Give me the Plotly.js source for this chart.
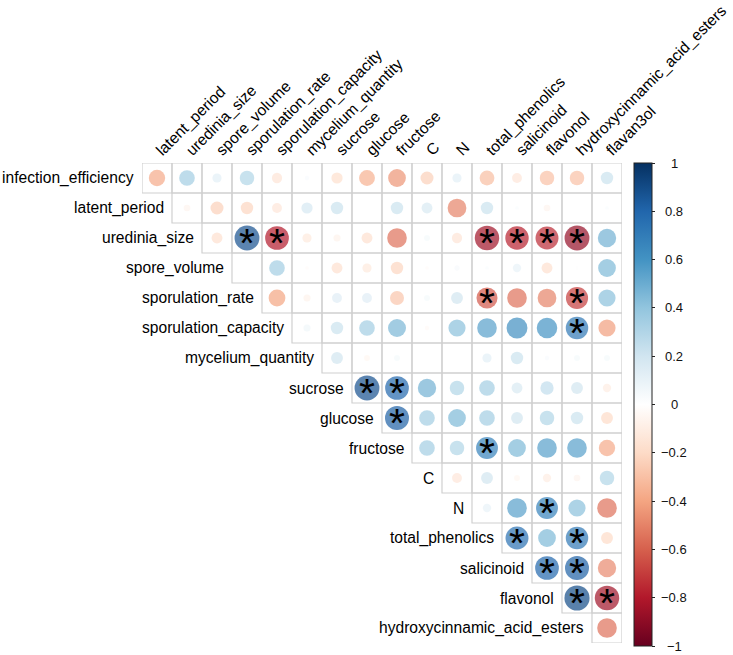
<!DOCTYPE html>
<html>
<head>
<meta charset="utf-8">
<script src="https://cdn.plot.ly/plotly-3.0.1.min.js"></script>
<style>html,body{margin:0;padding:0;background:#fff;}</style>
</head>
<body>
<div id="chart" style="width:733px;height:655px;"></div>
<script>
// ---------- DATA ----------
const variables = ['infection_efficiency','latent_period','uredinia_size','spore_volume','sporulation_rate',
  'sporulation_capacity','mycelium_quantity','sucrose','glucose','fructose','C','N','total_phenolics',
  'salicinoid','flavonol','hydroxycinnamic_acid_esters','flavan3ol'];

// Upper-triangle correlations: each row lists r with the variables that follow it
const r_infection_efficiency = [-0.38, 0.35, 0.12, 0.3, -0.15, 0.03, -0.18, -0.36, -0.45, -0.24, 0.12, -0.31, -0.14, -0.3, -0.3, 0.22];
const r_latent_period = [-0.06, -0.24, -0.22, -0.14, 0.18, 0.22, 0, 0.22, 0.17, -0.5, 0.22, 0.02, -0.06, 0, 0.02];
const r_uredinia_size = [-0.17, 0.88, -0.8, -0.12, -0.07, -0.17, -0.55, 0.05, -0.15, -0.85, -0.78, -0.75, -0.88, 0.48];
const r_spore_volume = [0, 0.35, -0.02, -0.17, -0.12, -0.22, -0.02, 0.04, 0.02, 0.1, -0.17, 0.01, 0.45];
const r_sporulation_rate = [-0.4, -0.07, 0.14, 0.14, -0.28, 0.05, 0.2, -0.63, -0.55, -0.5, -0.7, 0.42];
const r_sporulation_capacity = [0.07, 0.22, 0.35, 0.46, -0.03, 0.42, 0.55, 0.62, 0.6, 0.72, -0.42];
const r_mycelium_quantity = [0.2, -0.05, 0.05, 0, 0, 0.12, 0.22, 0.03, 0.05, 0.05];
const r_sucrose = [0.88, 0.8, 0.48, 0.3, 0.35, 0.17, 0.25, 0.2, -0.1];
const r_glucose = [0.82, 0.35, 0.45, 0.35, 0.2, 0.3, 0.22, -0.2];
const r_fructose = [0.35, 0.3, 0.68, 0.45, 0.55, 0.55, -0.38];
const r_C = [-0.14, 0.2, -0.05, -0.1, -0.06, 0.3];
const r_N = [0.1, 0.55, 0.68, 0.42, -0.55];
const r_total_phenolics = [0.75, 0.45, 0.72, -0.2];
const r_salicinoid = [0.8, 0.82, -0.48];
const r_flavonol = [0.9, -0.85];
const r_hydroxycinnamic_acid_esters = [-0.55];

// significant pairs (row variable, column variable)
const significantPairs = [
  ['uredinia_size','sporulation_rate'], ['uredinia_size','sporulation_capacity'],
  ['uredinia_size','total_phenolics'], ['uredinia_size','salicinoid'],
  ['uredinia_size','flavonol'], ['uredinia_size','hydroxycinnamic_acid_esters'],
  ['sporulation_rate','total_phenolics'], ['sporulation_rate','hydroxycinnamic_acid_esters'],
  ['sporulation_capacity','hydroxycinnamic_acid_esters'],
  ['sucrose','glucose'], ['sucrose','fructose'], ['glucose','fructose'],
  ['fructose','total_phenolics'], ['N','flavonol'],
  ['total_phenolics','salicinoid'], ['total_phenolics','hydroxycinnamic_acid_esters'],
  ['salicinoid','flavonol'], ['salicinoid','hydroxycinnamic_acid_esters'],
  ['flavonol','hydroxycinnamic_acid_esters'], ['flavonol','flavan3ol']
];

const colorbarTicks = [-1, -0.8, -0.6, -0.4, -0.2, 0, 0.2, 0.4, 0.6, 0.8, 1];

// ---------- BUILD ----------
const rowVars = variables.slice(0, variables.length - 1);
const colVars = variables.slice(1);
const rows = [r_infection_efficiency, r_latent_period, r_uredinia_size, r_spore_volume, r_sporulation_rate,
  r_sporulation_capacity, r_mycelium_quantity, r_sucrose, r_glucose, r_fructose, r_C, r_N,
  r_total_phenolics, r_salicinoid, r_flavonol, r_hydroxycinnamic_acid_esters];

const FONT = '"Liberation Sans", Arial, Helvetica, sans-serif';
const W = 733, H = 655, ML = 142, MR = 111, MT = 163, MB = 12;
const PW = W - ML - MR, PH = H - MT - MB;

const xs = [], ys = [], vals = [], mags = [], shapes = [];
rows.forEach((row, i) => {
  row.forEach((v, k) => {
    const j = i + k;
    xs.push(j); ys.push(i); vals.push(v); mags.push(Math.abs(v));
    shapes.push({type: 'rect', xref: 'x', yref: 'y', x0: j - 0.5, x1: j + 0.5, y0: i - 0.5, y1: i + 0.5,
      line: {color: '#d0d0d0', width: 1.2}, fillcolor: 'rgba(0,0,0,0)', layer: 'below'});
  });
});

const RdBu = [[0,'#67001F'],[0.1,'#B2182B'],[0.2,'#D6604D'],[0.3,'#F4A582'],[0.4,'#FDDBC7'],[0.5,'#FFFFFF'],
  [0.6,'#D1E5F0'],[0.7,'#92C5DE'],[0.8,'#4393C3'],[0.9,'#2166AC'],[1,'#053061']];

const MAXD = 26.5; // circle diameter (px) for |r| = 1 ; area proportional to |r|
const BAR_TOP = 163, BAR_LEN = 483;
const circles = {
  type: 'scatter', mode: 'markers', x: xs, y: ys, hoverinfo: 'skip',
  marker: {
    size: mags, sizemode: 'area', sizeref: 2 / (MAXD * MAXD), sizemin: 0,
    color: vals, cmin: -1, cmax: 1, colorscale: RdBu, line: {width: 0},
    showscale: true,
    colorbar: {
      x: (634 - ML) / PW, xanchor: 'left', xpad: 0, y: 1, yanchor: 'top', ypad: 0,
      len: BAR_LEN, lenmode: 'pixels', thickness: 18, thicknessmode: 'pixels',
      outlinewidth: 1, outlinecolor: '#222',
      tickvals: colorbarTicks, ticks: 'outside', ticklen: 3, tickwidth: 1, tickcolor: '#222',
      showticklabels: false
    }
  }
};

const annotations = [];
rowVars.forEach((name, i) => {
  annotations.push({x: i - 0.5, y: i, xref: 'x', yref: 'y', text: name, showarrow: false,
    xanchor: 'right', yanchor: 'middle', xshift: -6, font: {family: FONT, size: 15.6, color: '#000'}});
});
significantPairs.forEach(([a, b]) => {
  annotations.push({x: variables.indexOf(b) - 1, y: variables.indexOf(a), xref: 'x', yref: 'y', text: '*',
    showarrow: false, xanchor: 'center', yanchor: 'middle', yshift: -5,
    font: {family: FONT, size: 41, color: '#000'}});
});
// colorbar tick labels, centred like the reference
colorbarTicks.forEach(v => {
  const pix = BAR_TOP + (1 - v) / 2 * BAR_LEN;
  annotations.push({x: (674 - ML) / PW, y: (H - MB - pix) / PH, xref: 'paper', yref: 'paper',
    text: v < 0 ? '\u2212' + Math.abs(v) : String(v), showarrow: false, xanchor: 'center', yanchor: 'middle',
    font: {family: FONT, size: 13, color: '#111'}});
});

const layout = {
  width: W, height: H, autosize: false,
  margin: {l: ML, r: MR, t: MT, b: MB, pad: 0},
  paper_bgcolor: '#fff', plot_bgcolor: '#fff', showlegend: false, hovermode: false,
  xaxis: {range: [-0.5, 15.5], side: 'top', tickmode: 'array', tickvals: colVars.map((_, j) => j),
    ticktext: colVars, tickangle: -45, ticks: '', showgrid: false, zeroline: false, showline: false,
    tickfont: {family: FONT, size: 15.6, color: '#000'}, fixedrange: true},
  yaxis: {range: [15.5, -0.5], visible: false, fixedrange: true},
  shapes: shapes, annotations: annotations
};

Plotly.newPlot('chart', [circles], layout, {displayModeBar: false, staticPlot: true});
</script>
</body>
</html>
